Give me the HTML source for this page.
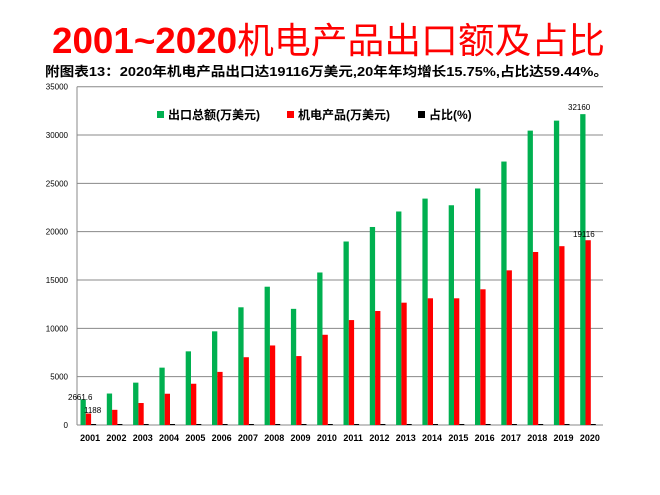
<!DOCTYPE html>
<html><head><meta charset="utf-8"><style>
html,body{margin:0;padding:0;background:#fff;}
svg{display:block;font-family:"Liberation Sans","Noto Sans CJK SC",sans-serif;}
</style></head><body>
<svg id="s" width="660" height="495" viewBox="0 0 660 495" xmlns="http://www.w3.org/2000/svg">
<text x="52" y="53" font-size="36" font-weight="bold" fill="#ff0000" textLength="553" lengthAdjust="spacingAndGlyphs">2001~2020<tspan font-weight="normal">机电产品出口额及占比</tspan></text>
<text x="45" y="76" font-size="13" font-weight="bold" fill="#000" textLength="563" lengthAdjust="spacingAndGlyphs">附图表13：2020年机电产品出口达19116万美元,20年年均增长15.75%,占比达59.44%。</text>
<g id="g"></g>
<g font-size="12" font-weight="bold" fill="#000">
<rect x="157" y="111" width="7" height="7" fill="#00b050"/>
<text x="168" y="119">出口总额(万美元)</text>
<rect x="287" y="111" width="7" height="7" fill="#ff0000"/>
<text x="298" y="119">机电产品(万美元)</text>
<rect x="418" y="111" width="7" height="7" fill="#000"/>
<text x="429" y="119">占比(%)</text>
</g>
</svg>
<script>
var g=document.getElementById('g'),h='';
var y0=425,k=338.3/35000,L=77,R=603,W=26.3;
for(var i=0;i<=7;i++){var y=y0-i*5000*k;
 h+='<line x1="'+L+'" x2="'+R+'" y1="'+y+'" y2="'+y+'" stroke="#888" stroke-width="1"/>';
 h+='<text x="68" y="'+(y+3)+'" font-size="8" text-anchor="end" fill="#000">'+(i*5000)+'</text>';}
h+='<line x1="'+L+'" x2="'+L+'" y1="86.7" y2="425" stroke="#888"/>';
var G=[2661.6,3256,4382,5934,7620,9690,12178,14307,12017,15778,18984,20487,22090,23423,22735,24470,27256,30456,31490,32160];
var Rd=[1188,1570,2275,3234,4268,5494,7012,8229,7131,9334,10856,11794,12655,13109,13107,14040,16000,17900,18500,19116];
for(var i=0;i<20;i++){var x=L+i*W+3.5;
 var hg=G[i]*k,hr=Rd[i]*k;
 h+='<rect x="'+x+'" y="'+(y0-hg)+'" width="5.3" height="'+hg+'" fill="#00b050"/>';
 h+='<rect x="'+(x+5.3)+'" y="'+(y0-hr)+'" width="5.3" height="'+hr+'" fill="#ff0000"/>';
 h+='<rect x="'+(x+10.6)+'" y="'+(y0-1)+'" width="5" height="1" fill="#000"/>';
 h+='<text x="'+(L+i*W+W/2)+'" y="441" font-size="9" font-weight="bold" text-anchor="middle" fill="#000">'+(2001+i)+'</text>';}
h+='<text x="68" y="400" font-size="8" fill="#000">2661.6</text>';
h+='<text x="84" y="413" font-size="8" fill="#000">1188</text>';
h+='<text x="568" y="110" font-size="8" fill="#000">32160</text>';
h+='<text x="573" y="237" font-size="8" fill="#000">19116</text>';
g.innerHTML=h;
</script>
</body></html>
